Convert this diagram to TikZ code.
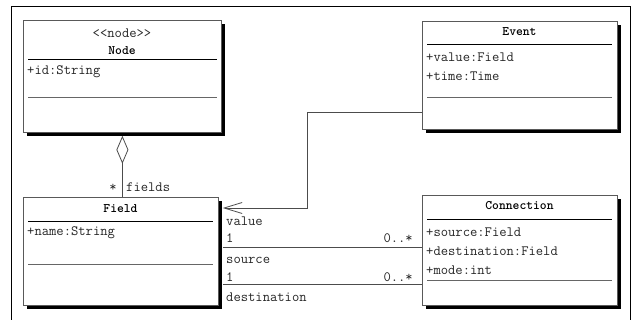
\documentclass[tikz,border=0pt]{standalone}
\usepackage{fontspec}
\usetikzlibrary{arrows.meta,shadows}

\tikzset{
  classbox/.style={draw=black!65, line width=0.8pt, fill=white, rectangle,
    inner sep=0pt, anchor=north west,
    general shadow={shadow xshift=4pt, shadow yshift=-4pt, fill=black}},
  txt/.style={inner sep=0pt, font=\ttfamily\fontsize{14.2}{16}\selectfont, text=black!85},
  title/.style={inner sep=0pt, font=\ttfamily\bfseries\fontsize{13}{15}\selectfont, text=black},
  sepdark/.style={draw=black, line width=0.8pt},
  seplight/.style={draw=black!60, line width=0.9pt},
  assoc/.style={draw=black!70, line width=0.7pt},
  frameline/.style={draw=black, line width=1pt},
}

\begin{document}
\begin{tikzpicture}[x=1pt, y=-1pt]
\useasboundingbox (0,0) rectangle (632,320);

% outer frame (open at the bottom)
\draw[frameline] (11,320) -- (11,6.5) -- (630.5,6.5) -- (630.5,320);

% class boxes
\node[classbox, minimum width=198pt, minimum height=112pt] (nodecls) at (23,20) {};
\node[classbox, minimum width=195pt, minimum height=108pt] (field) at (23,197) {};
\node[classbox, minimum width=195pt, minimum height=108pt] (event) at (422,21) {};
\node[classbox, minimum width=195pt, minimum height=110pt] (connection) at (422,195) {};

% Node
\node[txt] (nodestereo) at (122,33) {<<node>>};
\node[title] (nodename) at (122,51) {Node};
\draw[sepdark] (28,59.5) -- (217,59.5);
\node[txt, anchor=west] (nodeid) at (27,72) {+id:String};
\draw[seplight] (28,97) -- (217,97);

% Field
\node[title] (fieldname) at (120.5,209) {Field};
\draw[sepdark] (28,221) -- (213,221);
\node[txt, anchor=west] (fieldattr) at (27,233) {+name:String};
\draw[seplight] (28,264) -- (213,264);

% Event
\node[title] (eventname) at (519.5,32) {Event};
\draw[sepdark] (427,44) -- (612,44);
\node[txt, anchor=west] (eventvalue) at (426,57) {+value:Field};
\node[txt, anchor=west] (eventtime) at (426,76) {+time:Time};
\draw[seplight] (427,97) -- (612,97);

% Connection
\node[title] (connname) at (519.5,206) {Connection};
\draw[sepdark] (427,219) -- (612,219);
\node[txt, anchor=west] (connsrc) at (426,232) {+source:Field};
\node[txt, anchor=west] (conndst) at (426,251) {+destination:Field};
\node[txt, anchor=west] (connmode) at (426,270) {+mode:int};
\draw[seplight] (427,280) -- (612,280);

% aggregation Node <>-- Field
\draw[assoc, {Diamond[open, fill=white, length=28pt, width=12pt, line width=0.8pt]}-]
  ([yshift=-3pt]nodecls.south) -- (nodecls.south |- field.north);
\node[txt] (aggmult) at (113,188) {*};
\node[txt, anchor=west] (aggrole) at (126,187) {fields};

% Event.value --> Field
\draw[assoc, -{Straight Barb[length=18pt, width=11pt, line width=0.8pt]}]
  ([yshift=-91pt]event.north west) -- ++(-115,0) |- ([xshift=4pt, yshift=-11pt]field.north east);

% Connection.source / Connection.destination -- Field
\draw[assoc] ([xshift=4pt, yshift=-50pt]field.north east) -- ([yshift=-52pt]connection.north west);
\draw[assoc] ([xshift=4pt, yshift=-87pt]field.north east) -- ([yshift=-89pt]connection.north west);

\node[txt, anchor=west] (lvalue) at (226,221) {value};
\node[txt, anchor=west] (lone1) at (226,238) {1};
\node[txt, anchor=east] (lmany1) at (413,238) {0..*};
\node[txt, anchor=west] (lsource) at (226,260) {source};
\node[txt, anchor=west] (lone2) at (226,277) {1};
\node[txt, anchor=east] (lmany2) at (413,277) {0..*};
\node[txt, anchor=west] (ldest) at (226,297) {destination};
\end{tikzpicture}
\end{document}
